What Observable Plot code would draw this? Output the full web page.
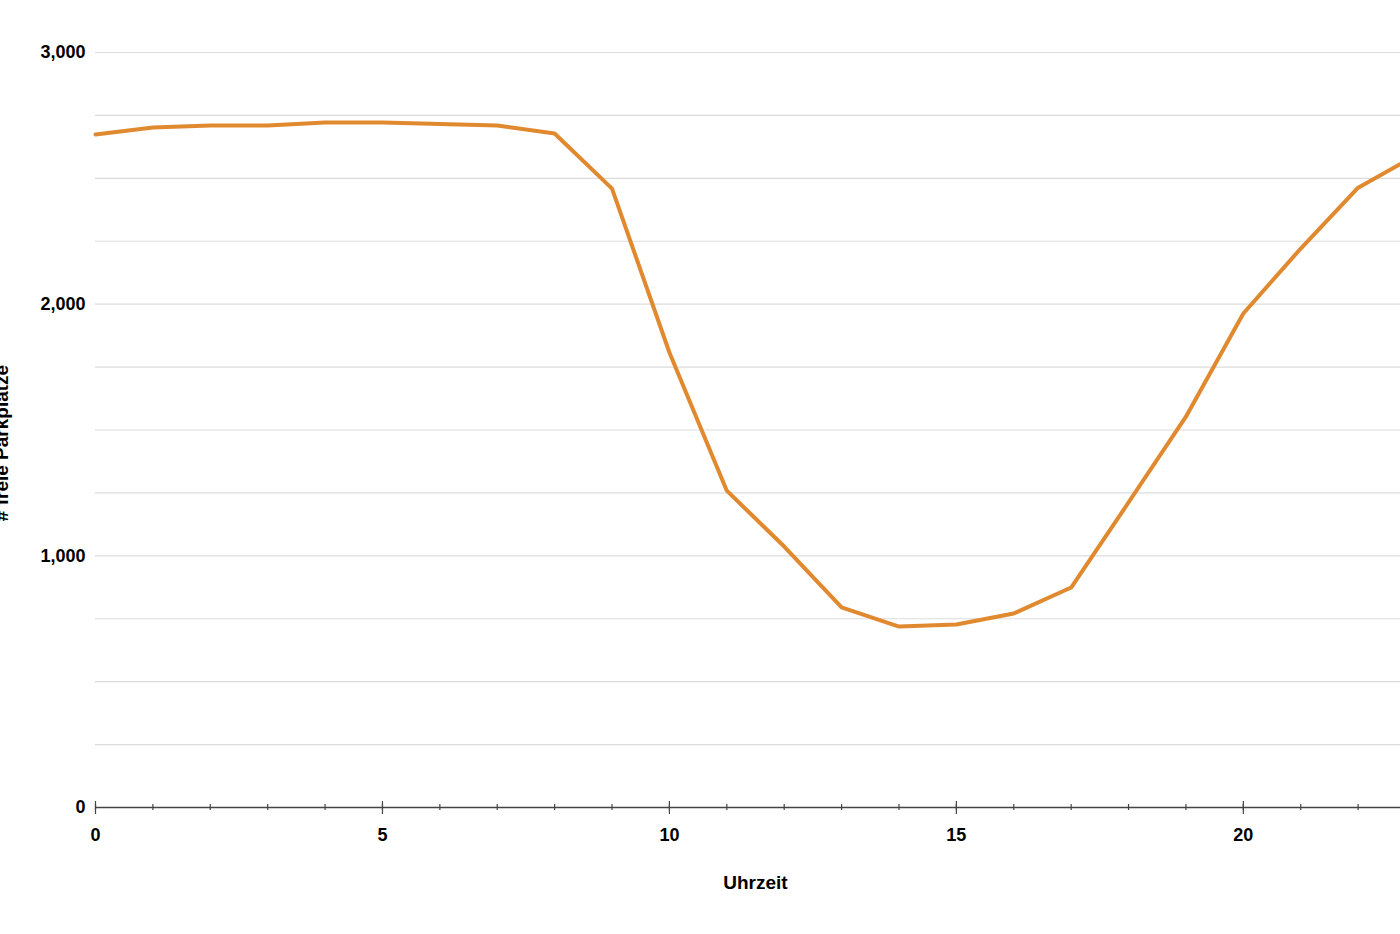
<!DOCTYPE html>
<html>
<head>
<meta charset="utf-8">
<script src="https://cdn.jsdelivr.net/npm/d3@7"></script>
<script src="https://cdn.jsdelivr.net/npm/@observablehq/plot@0.6"></script>
<style>
  html, body { margin: 0; padding: 0; background: #fff; overflow: hidden; width: 1400px; height: 934px; }
  #chart { width: 1460px; }
  #chart svg { display: block; max-width: none !important; }
</style>
</head>
<body>
<div id="chart"></div>
<script>
const hours = [0,1,2,3,4,5,6,7,8,9,10,11,12,13,14,15,16,17,18,19,20,21,22,23];
const freeSpots = [2674,2702,2710,2710,2722,2722,2716,2710,2678,2459,1808,1259,1037,795,719,727,771,874,1212,1553,1963,2221,2463,2590];
const yGridTicks = d3.range(0, 3001, 250);
const yLabelTicks = [0, 1000, 2000, 3000];
const xMinorTicks = hours;
const xMajorTicks = [0, 5, 10, 15, 20];
const xLabel = "Uhrzeit";
const yLabel = "# freie Parkplätze";

const data = hours.map((h, i) => ({hour: h, value: freeSpots[i]}));

const chart = Plot.plot({
  width: 1460,
  height: 934,
  marginLeft: 95,
  marginRight: 45,
  marginTop: 52,
  marginBottom: 127,
  style: {fontFamily: "Liberation Sans, Arial, sans-serif", fontSize: "18px", fontWeight: "bold", color: "#000", background: "#fff", maxWidth: "none"},
  x: {domain: [0, 23]},
  y: {domain: [0, 3000]},
  marks: [
    Plot.gridY(yGridTicks, {stroke: "#dcdcdc", strokeOpacity: 1, strokeWidth: 1.2}),
    Plot.axisY(yLabelTicks, {tickSize: 0, tickPadding: 10, tickFormat: d3.format(","), label: null, fill: "#000"}),
    Plot.ruleY([0], {stroke: "#444", strokeWidth: 1.5}),
    Plot.axisX(xMinorTicks, {tickSize: 6, dy: -3, tickFormat: () => "", label: null, stroke: "#444", strokeWidth: 1.2}),
    Plot.axisX(xMajorTicks, {tickSize: 13, dy: -6, tickFormat: () => "", label: null, stroke: "#444", strokeWidth: 1.2}),
    Plot.axisX(xMajorTicks, {tickSize: 0, tickPadding: 21, label: null, fill: "#000"}),
    Plot.line(data, {x: "hour", y: "value", stroke: "#e0892f", strokeWidth: 4, strokeLinejoin: "round"}),
    Plot.text([xLabel], {frameAnchor: "bottom", dy: 81, text: d => d, fontSize: 19, fontWeight: "bold", fill: "#000"}),
    Plot.text([yLabel], {frameAnchor: "left", textAnchor: "middle", dx: -94, dy: 13, rotate: -90, text: d => d, fontSize: 19, fontWeight: "bold", fill: "#000"})
  ]
});
document.getElementById("chart").appendChild(chart);
</script>
</body>
</html>
